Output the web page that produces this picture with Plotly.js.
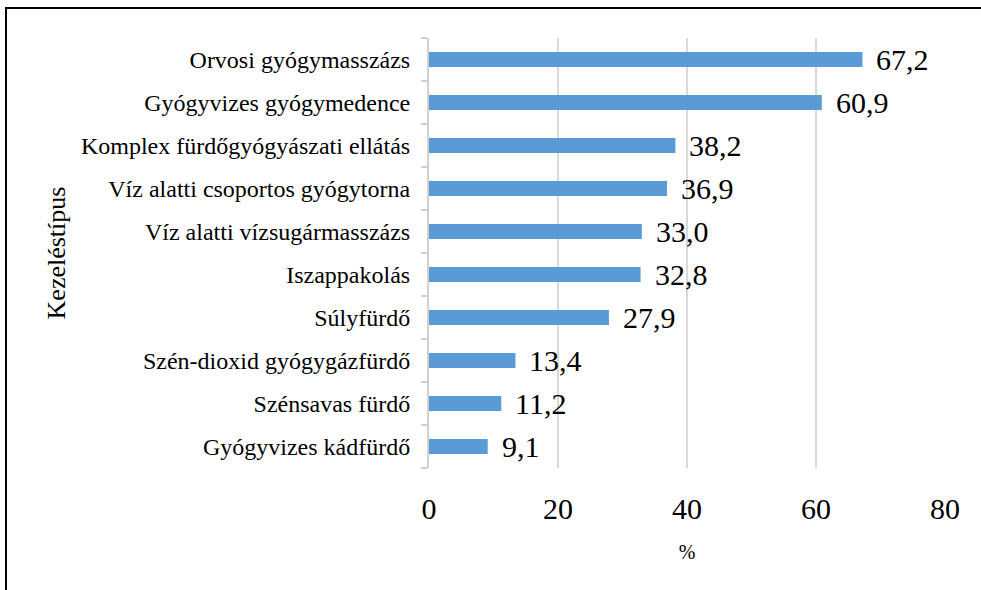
<!DOCTYPE html>
<html>
<head>
<meta charset="utf-8">
<script src="https://cdn.plot.ly/plotly-3.0.1.min.js"></script>
<style>
html,body{margin:0;padding:0;background:#fff;}
#wrap{position:relative;width:981px;height:590px;overflow:hidden;}
#chart{position:absolute;left:0;top:0;width:981px;height:590px;}
#frame{position:absolute;left:5px;top:7px;width:1000px;height:600px;border-left:2px solid #000;border-top:2px solid #000;pointer-events:none;}
</style>
</head>
<body>
<div id="wrap"><div id="chart"></div><div id="frame"></div></div>
<script>
const categories = [
  "Orvosi gyógymasszázs",
  "Gyógyvizes gyógymedence",
  "Komplex fürdőgyógyászati ellátás",
  "Víz alatti csoportos gyógytorna",
  "Víz alatti vízsugármasszázs",
  "Iszappakolás",
  "Súlyfürdő",
  "Szén-dioxid gyógygázfürdő",
  "Szénsavas fürdő",
  "Gyógyvizes kádfürdő"
];
const values = [67.2, 60.9, 38.2, 36.9, 33.0, 32.8, 27.9, 13.4, 11.2, 9.1];
const valueLabels = ["67,2","60,9","38,2","36,9","33,0","32,8","27,9","13,4","11,2","9,1"];
const xTicks = [0, 20, 40, 60, 80];
const xTitle = "%";
const yTitle = "Kezeléstípus";

const serif = "'Liberation Serif', 'Times New Roman', serif";

const trace = {
  type: "bar",
  orientation: "h",
  x: values,
  y: categories,
  marker: {color: "#5b9bd5"},
  hoverinfo: "x+y"
};

const annotations = values.map((v, i) => ({
  x: v, y: categories[i], xref: "x", yref: "y",
  text: valueLabels[i], showarrow: false,
  xanchor: "left", yanchor: "middle", xshift: 12, yshift: 0,
  font: {family: serif, size: 30, color: "#000"}
}));

const layout = {
  width: 981, height: 590,
  margin: {l: 429, r: 36, t: 38, b: 122, pad: 0},
  paper_bgcolor: "#fff", plot_bgcolor: "#fff",
  bargap: 0.65,
  showlegend: false,
  font: {family: serif, color: "#000"},
  xaxis: {
    range: [0, 80],
    tickvals: xTicks,
    ticktext: xTicks.map(String),
    showgrid: true, gridcolor: "#d9d9d9", gridwidth: 2,
    zeroline: false, showline: false,
    ticks: "outside", ticklen: 14, tickcolor: "rgba(0,0,0,0)",
    tickfont: {family: serif, size: 30, color: "#000"},
    title: {text: xTitle, standoff: 20, font: {family: serif, size: 20, color: "#000"}},
    fixedrange: true
  },
  yaxis: {
    categoryorder: "array",
    categoryarray: categories.slice().reverse(),
    showgrid: false, zeroline: false,
    showline: true, linecolor: "#d0d0d0", linewidth: 2,
    ticks: "outside", tickson: "boundaries", ticklen: 6, tickcolor: "#d0d0d0", tickwidth: 2,
    ticklabelstandoff: 12,
    tickfont: {family: serif, size: 24, color: "#000"},
    title: {text: yTitle, standoff: 8, font: {family: serif, size: 26, color: "#000"}},
    fixedrange: true
  },
  annotations: annotations
};

Plotly.newPlot("chart", [trace], layout, {displayModeBar: false, staticPlot: true});
</script>
</body>
</html>
